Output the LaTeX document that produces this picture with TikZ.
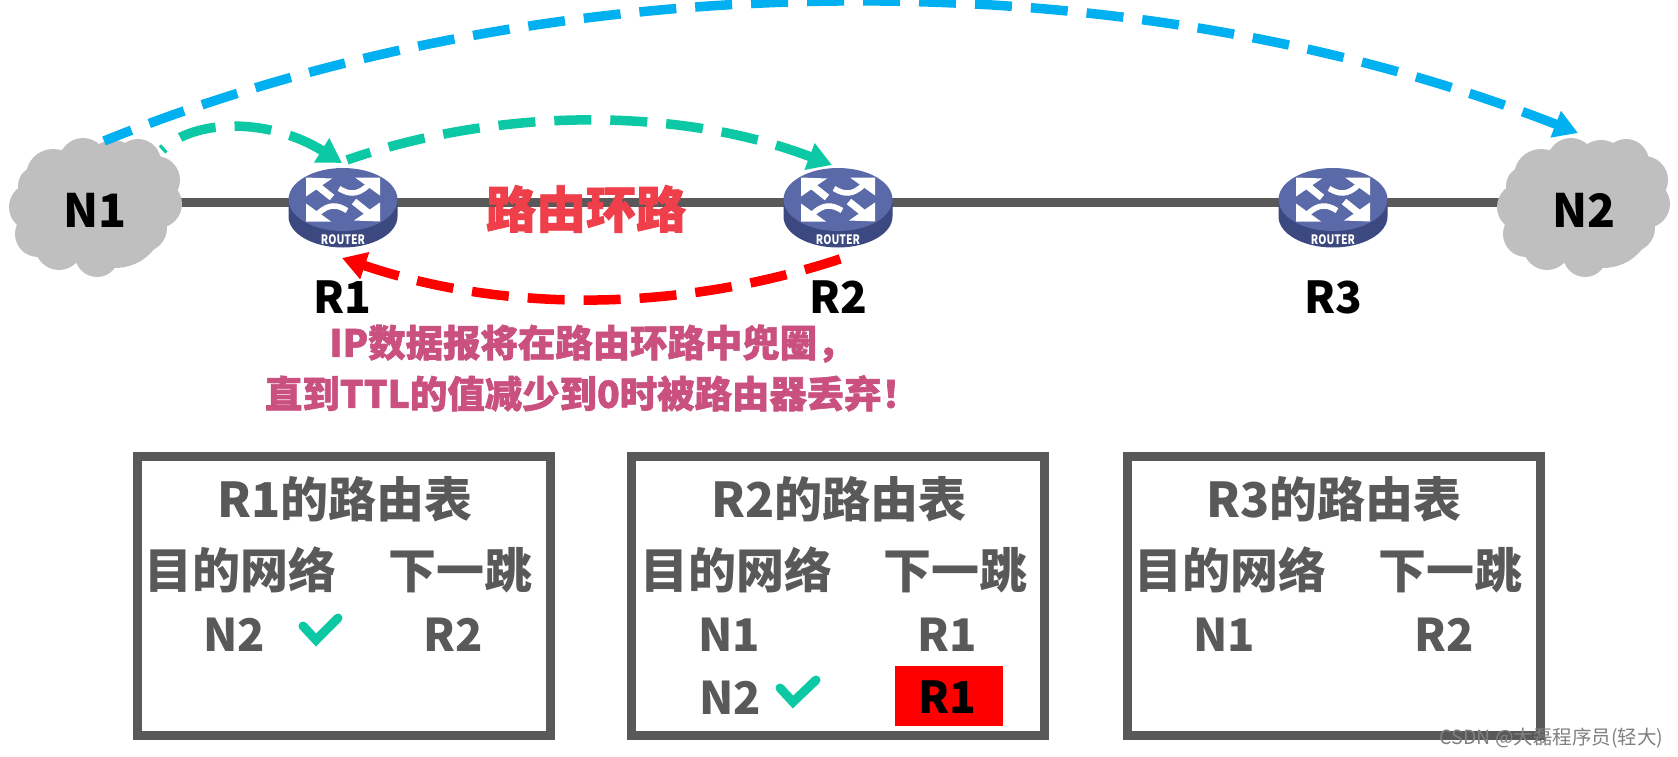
\documentclass[tikz,border=0pt]{standalone}
\usepackage{fontspec}
\setmainfont{Noto Sans CJK SC}
\newfontfamily\cjkheavy[BoldFeatures={FakeBold=1.6}]{Noto Sans CJK SC}
\usetikzlibrary{arrows.meta}
\definecolor{linegray}{HTML}{595959}
\definecolor{cloudgray}{HTML}{BFBFBF}
\definecolor{bluedash}{HTML}{00B0F0}
\definecolor{greendash}{HTML}{0CC8A4}
\definecolor{pinktext}{HTML}{C9507F}
\definecolor{redtext}{HTML}{EE3F4A}
\definecolor{routertop}{HTML}{5A69A8}
\definecolor{routerside}{HTML}{3C4880}
\tikzset{
  txt/.style={inner sep=0pt,font=\fontsize{48}{50}\selectfont\bfseries,text=linegray},
  rowtxt/.style={inner sep=0pt,font=\fontsize{45}{50}\selectfont\bfseries,text=linegray},
  lbl/.style={inner sep=0pt,font=\fontsize{46}{50}\selectfont\bfseries,text=black},
  rlbl/.style={inner sep=0pt,font=\fontsize{44}{50}\selectfont\bfseries,text=black},
  anchorbox/.style={inner sep=0pt,minimum width=#1,minimum height=40pt},
  dashline/.style={line width=9.5pt,dash pattern=on 37pt off 19pt,
     {Triangle[length=24pt,width=27pt]}-},
  tablebox/.style={draw=linegray,line width=9pt,fill=white,minimum width=413pt,minimum height=279pt,inner sep=0pt},
  checkmark/.style={draw=greendash,line width=9pt,line cap=round,line join=miter}
}
\newcommand{\cloudat}[2]{%
  \begin{scope}[shift={(#1,#2)}]
  \foreach \a/\b/\c in {-42/-32/27,-12/-46/24,43/-46/23,18/-42/26,61/-28/24,63/-4/24,48/20/24,35/36/20,2/47/22,-36/38/24,-57/26/23,-62/-1/24,-57/-22/20,0/0/58,-20/-10/50,20/10/50,-30/15/40,30/-15/45}
    \fill[cloudgray] (\a,\b) circle[radius=\c pt];
  \end{scope}}
\newcommand{\routerat}[2]{%
  \begin{scope}[shift={(#1,#2)}]
  \fill[routerside] (-54.5,0) -- (-54.5,17) arc[start angle=180,end angle=360,x radius=54.5pt,y radius=31pt] -- (54.5,0) -- cycle;
  \fill[routertop] (0,0) ellipse[x radius=54.5pt,y radius=31.5pt];
  \foreach \sx in {1,-1}{
    \begin{scope}[xscale=\sx,yscale=\sx]
    \fill[white] (-37,-22) -- (-11,-21) -- (-37,-3) -- cycle;
    \draw[white,line width=7pt] (-26,-14) -- (-11,-2);
    \fill[white] (37,-22) -- (12,-22) -- (37,-4) -- cycle;
    \draw[white,line width=5.5pt] (25,-14) .. controls (14,-4) and (6,-5) .. (-4,-11);
    \end{scope}}
  \node[inner sep=0pt,text=white,font=\fontsize{13}{13}\selectfont\bfseries] at (0,40) {\scalebox{.8}[1]{ROUTER}};
  \end{scope}}
\begin{document}
\begin{tikzpicture}[x=1pt,y=-1pt]
\useasboundingbox (0,0) rectangle (1678,757);
\fill[white] (0,0) rectangle (1678,757);
% anchors
\node[anchorbox=150pt] (n1) at (95,202) {};
\node[anchorbox=100pt] (r1) at (343,202) {};
\node[anchorbox=100pt] (r2) at (838,202) {};
\node[anchorbox=100pt] (r3) at (1333,202) {};
\node[anchorbox=150pt] (n2) at (1583,202) {};
\draw[linegray,line width=9pt] (n1) -- (r1) -- (r2) -- (r3) -- (n2);
\cloudat{95}{208}
\cloudat{1583}{208}
\routerat{343}{199.5}
\routerat{838}{199.5}
\routerat{1333}{199.5}
\node[lbl] (n1t) at (95,210) {N1};
\node[lbl] (n2t) at (1584,210) {N2};
\node[rlbl] (r1t) at (342,297) {R1};
\node[rlbl] (r2t) at (838,297) {R2};
\node[rlbl] (r3t) at (1333,297) {R3};
% arcs, each drawn from its head so that a dash meets the arrowhead
\coordinate (b0) at (104,141); \coordinate (b1) at (1578,133);
\coordinate (g0) at (162,150); \coordinate (g1) at (342,163);
\coordinate (h0) at (347,160); \coordinate (h1) at (832,165);
\coordinate (k0) at (846,257); \coordinate (k1) at (342,258);
\draw[bluedash,dashline] (b1) .. controls (1130,-43) and (560,-43) .. (b0);
\draw[greendash,dashline] (g1) .. controls (270,118) and (195,118) .. (g0);
\draw[greendash,dashline] (h1) .. controls (680,107) and (500,107) .. (h0);
\draw[red,dashline] (k1) .. controls (505,313) and (680,313) .. (k0);
% callouts
\node[inner sep=0pt,text=redtext,font=\cjkheavy\fontsize{50}{52}\selectfont\bfseries] (loop) at (586,209) {路由环路};
\node[inner sep=0pt,text=pinktext,font=\cjkheavy\fontsize{37.4}{51}\selectfont\bfseries,align=center] (note) at (592,368) {IP数据报将在路由环路中兜圈，\\直到TTL的值减少到0时被路由器丢弃！};
% table 1
\node[tablebox] (t1) at (343.5,596) {};
\node[txt] (t1a) at (345,499) {R1的路由表};
\node[txt] (t1b) at (240,570) {目的网络};
\node[txt] (t1c) at (460,570) {下一跳};
\node[rowtxt] (t1d) at (234,635) {N2};
\node[rowtxt] (t1e) at (453,635) {R2};
\draw[checkmark] (303,626) -- (316,640) -- (338,618);
% table 2
\node[tablebox] (t2) at (838,596) {};
\node[txt] (t2a) at (839,499) {R2的路由表};
\node[txt] (t2b) at (736,570) {目的网络};
\node[txt] (t2c) at (955,570) {下一跳};
\node[rowtxt] (t2d) at (729,635) {N1};
\node[rowtxt] (t2e) at (947,635) {R1};
\node[rowtxt] (t2f) at (730,698) {N2};
\draw[checkmark] (780,688) -- (793,702) -- (816,680);
\node[fill=red,minimum width=108pt,minimum height=60pt,inner sep=0pt] (t2r) at (949,695.5) {};
\node[rlbl] (t2g) at (947,697) {R1};
% table 3
\node[tablebox] (t3) at (1333.5,596) {};
\node[txt] (t3a) at (1334,499) {R3的路由表};
\node[txt] (t3b) at (1230,570) {目的网络};
\node[txt] (t3c) at (1450,570) {下一跳};
\node[rowtxt] (t3d) at (1224,635) {N1};
\node[rowtxt] (t3e) at (1444,635) {R2};
% watermark
\node[inner sep=0pt,text=gray,font=\fontsize{19.5}{20}\selectfont] (wm) at (1551.5,738) {CSDN @大磊程序员(轻大)};
\end{tikzpicture}
\end{document}
